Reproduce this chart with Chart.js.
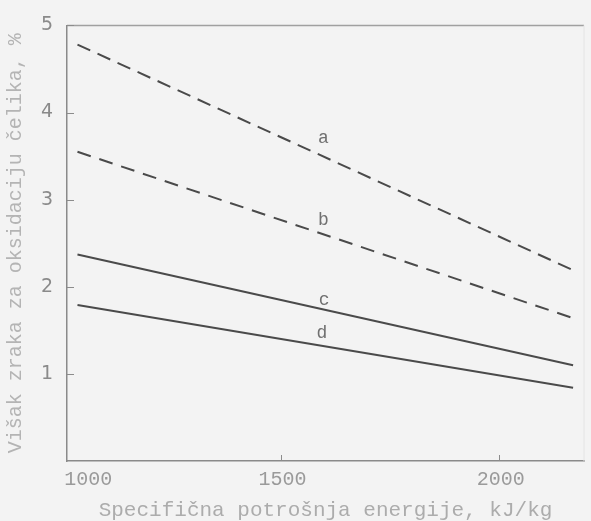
<!DOCTYPE html>
<html>
<head>
<meta charset="utf-8">
<script src="https://cdn.jsdelivr.net/npm/chart.js@4/dist/chart.umd.min.js"></script>
<style>
  html, body { margin: 0; padding: 0; background: #f3f3f3; }
  #wrap { width: 591px; height: 521px; }
</style>
</head>
<body>
<div id="wrap"><canvas id="c" width="591" height="521"></canvas></div>
<script>
// Specific energy consumption, kJ/kg (start and end of each curve)
const energy = [1035, 2170];
// Excess air for steel oxidation, %
const curveA = [4.78, 2.19];
const curveB = [3.55, 1.64];
const curveC = [2.37, 1.10];
const curveD = [1.79, 0.84];

const curveNames = ['a', 'b', 'c', 'd'];
// where each curve letter sits, in axis units
const nameX = [1598, 1598, 1600, 1595];
const nameY = [3.70, 2.76, 1.84, 1.47];

const xTickValues = [1000, 1500, 2000];
const yTickValues = [1, 2, 3, 4, 5];
const xMin = 1011, xMax = 2195;

const xTitle = 'Specifična potrošnja energije, kJ/kg';
const yTitle = 'Višak zraka za oksidaciju čelika, %';

const toPoints = ys => energy.map((e, i) => ({ x: e, y: ys[i] }));
const ink = '#4a4a4a';

const frame = {
  id: 'frame',
  afterDatasetsDraw(chart) {
    const { ctx, chartArea: a, scales: { x, y } } = chart;
    ctx.save();
    // top and right edges of the plot box
    ctx.strokeStyle = '#a0a0a0';
    ctx.lineWidth = 1.5;
    ctx.beginPath();
    ctx.moveTo(a.left, a.top);
    ctx.lineTo(a.right, a.top);
    ctx.stroke();
    ctx.strokeStyle = '#e4e4e4';
    ctx.lineWidth = 1;
    ctx.beginPath();
    ctx.moveTo(a.right, a.top);
    ctx.lineTo(a.right, a.bottom);
    ctx.stroke();
    // tick marks pointing into the plot
    ctx.strokeStyle = '#8c8c8c';
    ctx.lineWidth = 1;
    ctx.beginPath();
    yTickValues.forEach(v => {
      const py = Math.round(y.getPixelForValue(v)) + 0.5;
      ctx.moveTo(a.left, py);
      ctx.lineTo(a.left + 7, py);
    });
    xTickValues.forEach(v => {
      const px = Math.round(x.getPixelForValue(v)) + 0.5;
      if (px <= a.left + 2) return;
      ctx.moveTo(px, a.bottom);
      ctx.lineTo(px, a.bottom - 6);
    });
    ctx.stroke();
    // curve letters
    ctx.fillStyle = '#707070';
    ctx.font = '18px "Liberation Mono"';
    ctx.textAlign = 'center';
    ctx.textBaseline = 'middle';
    curveNames.forEach((n, i) => {
      ctx.fillText(n, x.getPixelForValue(nameX[i]), y.getPixelForValue(nameY[i]));
    });
    ctx.restore();
  }
};

new Chart(document.getElementById('c'), {
  type: 'scatter',
  data: {
    datasets: [
      { label: 'a', data: toPoints(curveA), borderDash: [14, 8] },
      { label: 'b', data: toPoints(curveB), borderDash: [14, 9] },
      { label: 'c', data: toPoints(curveC) },
      { label: 'd', data: toPoints(curveD) }
    ].map(d => Object.assign({
      showLine: true,
      borderColor: ink,
      borderWidth: 2,
      pointRadius: 0,
      pointHoverRadius: 0,
      fill: false
    }, d))
  },
  options: {
    responsive: false,
    animation: false,
    events: [],
    layout: { padding: { top: 16, right: 3, left: 0, bottom: 0 } },
    plugins: {
      legend: { display: false },
      tooltip: { enabled: false }
    },
    scales: {
      x: {
        type: 'linear',
        min: xMin,
        max: xMax,
        afterBuildTicks: axis => {
          axis.ticks = xTickValues.concat([xMax]).map(v => ({ value: v }));
        },
        afterFit: s => { s.height = 60; },
        grid: { drawOnChartArea: false, drawTicks: false },
        border: { color: '#8a8a8a', width: 1.5 },
        ticks: {
          autoSkip: false,
          maxRotation: 0,
          align: 'inner',
          labelOffset: 2,
          padding: 7,
          color: '#9a9a9a',
          font: { family: '"Liberation Mono"', size: 20, lineHeight: 1.2 },
          callback: v => (xTickValues.includes(v) ? String(v) : '')
        },
        title: {
          display: true,
          text: xTitle,
          color: '#acacac',
          font: { family: '"Liberation Mono"', size: 21, lineHeight: 1 },
          padding: { top: 0, bottom: 0 }
        }
      },
      y: {
        type: 'linear',
        min: 0,
        max: 5,
        afterFit: s => { s.width = 67; },
        grid: { drawOnChartArea: false, drawTicks: false },
        border: { color: '#8a8a8a', width: 1.5 },
        ticks: {
          stepSize: 1,
          padding: 14,
          color: '#8a8a8a',
          font: { family: '"DejaVu Sans"', size: 19 },
          callback: v => (yTickValues.includes(v) ? String(v) : '')
        },
        title: {
          display: true,
          text: yTitle,
          color: '#b4b4b4',
          font: { family: '"Liberation Mono"', size: 20, lineHeight: 1 },
          padding: { top: 6, bottom: 0 }
        }
      }
    }
  },
  plugins: [frame]
});
</script>
</body>
</html>
